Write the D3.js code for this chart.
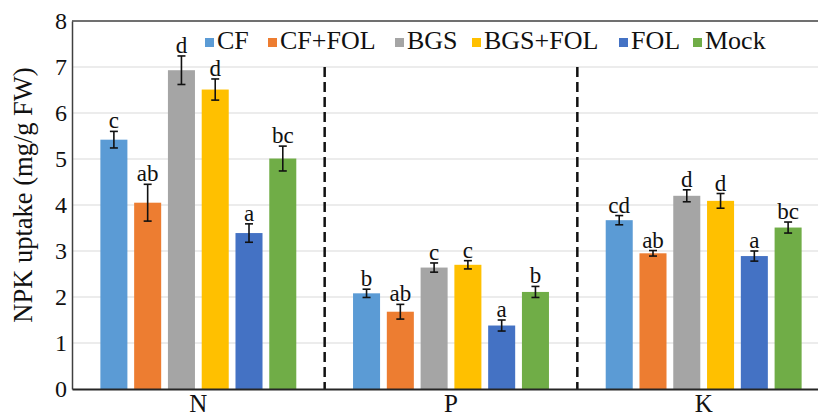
<!DOCTYPE html>
<html>
<head>
<meta charset="utf-8">
<script src="https://d3js.org/d3.v7.min.js"></script>
<style>
  body { margin: 0; background: #fff; }
</style>
</head>
<body>
<svg id="chart" width="818" height="412" style="font-family: 'Liberation Serif', 'DejaVu Serif', serif;"></svg>
<script>
// data
var nutrients = ["N", "P", "K"];
var treatments = ["CF", "CF+FOL", "BGS", "BGS+FOL", "FOL", "Mock"];
var colors = ["#5B9BD5", "#ED7D31", "#A5A5A5", "#FFC000", "#4472C4", "#70AD47"];
var yTicks = [0, 1, 2, 3, 4, 5, 6, 7, 8];

// values per nutrient, in treatment order
var valN = [5.42, 4.05, 6.93, 6.51, 3.39, 5.01];
var valP = [2.08, 1.68, 2.64, 2.70, 1.38, 2.11];
var valK = [3.67, 2.95, 4.20, 4.09, 2.89, 3.51];
var errN = [0.18, 0.40, 0.31, 0.23, 0.20, 0.27];
var errP = [0.09, 0.16, 0.10, 0.09, 0.12, 0.12];
var errK = [0.10, 0.06, 0.13, 0.16, 0.11, 0.12];
var letN = ["c", "ab", "d", "d", "a", "bc"];
var letP = ["b", "ab", "c", "c", "a", "b"];
var letK = ["cd", "ab", "d", "d", "a", "bc"];

var values = [valN, valP, valK];
var errors = [errN, errP, errK];
var letters = [letN, letP, letK];

var rows = [];
nutrients.forEach(function(n, i) {
  treatments.forEach(function(t, j) {
    rows.push({ nutrient: n, treatment: t, value: values[i][j], err: errors[i][j], letter: letters[i][j], color: colors[j] });
  });
});

var serif = "'Liberation Serif', 'DejaVu Serif', serif";
var svg = d3.select("#chart");
var mLeft = 72, mTop = 21, mBottom = 389, mRight = 830;

var x0 = d3.scaleBand().domain(nutrients).range([mLeft, mRight]).padding(0);
var x1 = d3.scaleBand().domain(treatments).range([0, x0.bandwidth()]).paddingInner(0.2).paddingOuter(0.84);
var y = d3.scaleLinear().domain([0, 8]).range([mBottom, mTop]);

// gridlines
svg.append("g").selectAll("line").data(yTicks.filter(function(d) { return d > 0 && d < 8; }))
  .enter().append("line")
  .attr("x1", mLeft).attr("x2", 818)
  .attr("y1", function(d) { return y(d); }).attr("y2", function(d) { return y(d); })
  .attr("stroke", "#d9d9d9").attr("stroke-width", 1.2);

// top border
svg.append("line").attr("x1", mLeft).attr("x2", 818).attr("y1", y(8)).attr("y2", y(8))
  .attr("stroke", "#404040").attr("stroke-width", 1.5);

// bars
svg.append("g").selectAll("rect").data(rows).enter().append("rect")
  .attr("x", function(d) { return x0(d.nutrient) + x1(d.treatment); })
  .attr("width", x1.bandwidth())
  .attr("y", function(d) { return y(d.value); })
  .attr("height", function(d) { return y(0) - y(d.value); })
  .attr("fill", function(d) { return d.color; });

// error bars
var eb = svg.append("g").attr("stroke", "#111").attr("stroke-width", 1.6);
rows.forEach(function(d) {
  var cx = x0(d.nutrient) + x1(d.treatment) + x1.bandwidth() / 2;
  eb.append("line").attr("x1", cx).attr("x2", cx).attr("y1", y(d.value + d.err)).attr("y2", y(d.value - d.err));
  eb.append("line").attr("x1", cx - 4).attr("x2", cx + 4).attr("y1", y(d.value + d.err)).attr("y2", y(d.value + d.err));
  eb.append("line").attr("x1", cx - 4).attr("x2", cx + 4).attr("y1", y(d.value - d.err)).attr("y2", y(d.value - d.err));
});

// significance letters
svg.append("g").selectAll("text").data(rows).enter().append("text")
  .attr("x", function(d) { return x0(d.nutrient) + x1(d.treatment) + x1.bandwidth() / 2; })
  .attr("y", function(d) { return y(d.value + d.err) - 3; })
  .attr("text-anchor", "middle")
  .attr("font-family", serif)
  .attr("font-size", 23)
  .attr("fill", "#111")
  .text(function(d) { return d.letter; });

// dashed dividers between groups
svg.append("g").selectAll("line").data(nutrients.slice(1)).enter().append("line")
  .attr("x1", function(d) { return x0(d); }).attr("x2", function(d) { return x0(d); })
  .attr("y1", y(7)).attr("y2", y(0))
  .attr("stroke", "#111").attr("stroke-width", 2.5).attr("stroke-dasharray", "10,5");

// axes
var yAxis = svg.append("g").attr("transform", "translate(" + mLeft + ",0)")
  .call(d3.axisLeft(y).tickValues(yTicks).tickSize(0).tickPadding(5));
yAxis.attr("font-family", serif).attr("font-size", 24);
yAxis.selectAll("text").attr("fill", "#111");
yAxis.select(".domain").attr("stroke", "#404040").attr("stroke-width", 1.5);

var xAxis = svg.append("g").attr("transform", "translate(0," + mBottom + ")")
  .call(d3.axisBottom(x0).tickSize(0).tickPadding(5));
xAxis.attr("font-family", serif).attr("font-size", 25);
xAxis.selectAll("text").attr("fill", "#111");
xAxis.select(".domain").attr("stroke", "#262626").attr("stroke-width", 1.8);

// y title
svg.append("text")
  .attr("transform", "translate(32,195) rotate(-90)")
  .attr("text-anchor", "middle")
  .attr("font-family", serif)
  .attr("font-size", 26.5)
  .attr("fill", "#111")
  .text("NPK uptake (mg/g FW)");

// legend
var legX = [205, 268, 395, 472, 619, 693];
var leg = svg.append("g").selectAll("g").data(treatments).enter().append("g")
  .attr("transform", function(d, i) { return "translate(" + legX[i] + ",38)"; });
leg.append("rect").attr("width", 9).attr("height", 9).attr("y", 0)
  .attr("fill", function(d, i) { return colors[i]; });
leg.append("text").attr("x", 12).attr("y", 10.5)
  .attr("font-family", serif).attr("font-size", 26)
  .attr("fill", "#111")
  .text(function(d) { return d; });
</script>
</body>
</html>
